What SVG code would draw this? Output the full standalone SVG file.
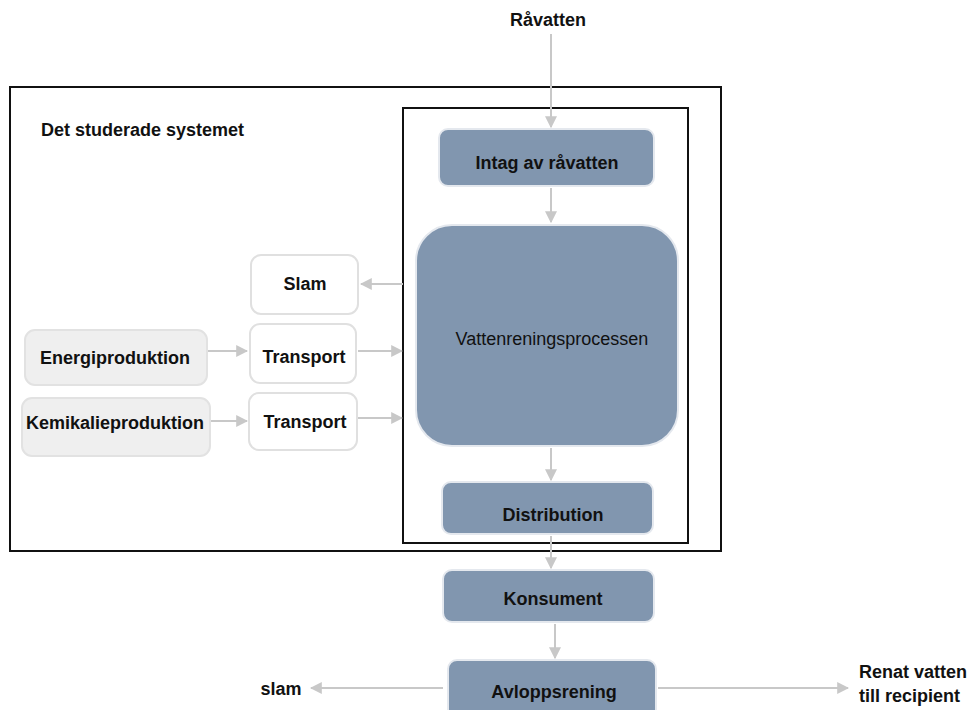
<svg xmlns="http://www.w3.org/2000/svg" width="969" height="710" viewBox="0 0 969 710">
<defs>
<style>
text{font-family:"Liberation Sans",Arial,sans-serif;font-size:18px;fill:#111;}
.b{font-weight:bold;}
.blue{fill:#8196af;stroke:#e4e8ee;stroke-width:2;}
.white{fill:#ffffff;stroke:#e0e0e0;stroke-width:2;}
.grey{fill:#efefef;stroke:#e2e2e2;stroke-width:2;}
.frame{fill:none;stroke:#111;stroke-width:2;}
.c{stroke:#c8c8c8;stroke-width:2;fill:none;marker-end:url(#ah);}
</style>
<marker id="ah" viewBox="0 0 10 10" refX="9" refY="5" markerWidth="6" markerHeight="6" orient="auto" markerUnits="strokeWidth">
<path d="M0,0 L10,5 L0,10 z" fill="#c8c8c8"/>
</marker>
</defs>
<rect width="969" height="710" fill="#fff"/>
<g id="system">
<rect class="frame" x="10" y="87" width="711" height="464"/>
<text class="b" x="41" y="136">Det studerade systemet</text>
</g>
<g id="process-frame">
<rect class="frame" x="403" y="108" width="285" height="435" stroke-width="2.5"/>
</g>
<g id="connectors">
<line class="c" x1="551" y1="34" x2="551" y2="127"/>
<line class="c" x1="551" y1="188" x2="551" y2="222"/>
<line class="c" x1="551" y1="448" x2="551" y2="480"/>
<line class="c" x1="551" y1="536" x2="551" y2="568"/>
<line class="c" x1="555" y1="624" x2="555" y2="658"/>
<line class="c" x1="403" y1="284" x2="361" y2="284"/>
<line class="c" x1="358" y1="351" x2="402" y2="351"/>
<line class="c" x1="358" y1="418" x2="402" y2="418"/>
<line class="c" x1="208" y1="351" x2="247" y2="351"/>
<line class="c" x1="211" y1="421" x2="247" y2="421"/>
<line class="c" x1="443" y1="688" x2="311" y2="688"/>
<line class="c" x1="658" y1="688" x2="848" y2="688"/>
</g>
<g id="ravatten"><text class="b" x="548" y="26" text-anchor="middle">Råvatten</text></g>
<g id="intag">
<rect class="blue" x="439" y="129" width="215" height="57" rx="9"/>
<text class="b" x="547" y="169" text-anchor="middle">Intag av råvatten</text>
</g>
<g id="vattenrening">
<rect class="blue" x="416" y="225" width="262" height="221" rx="36"/>
<text x="552" y="345" text-anchor="middle">Vattenreningsprocessen</text>
</g>
<g id="distribution">
<rect class="blue" x="442" y="482" width="211" height="52" rx="9"/>
<text class="b" x="553" y="521" text-anchor="middle">Distribution</text>
</g>
<g id="konsument">
<rect class="blue" x="443" y="570" width="211" height="52" rx="9"/>
<text class="b" x="553" y="605" text-anchor="middle">Konsument</text>
</g>
<g id="avloppsrening">
<rect class="blue" x="448" y="660" width="208" height="60" rx="9"/>
<text class="b" x="554" y="698" text-anchor="middle">Avloppsrening</text>
</g>
<g id="slam-box">
<rect class="white" x="251" y="255" width="107" height="59" rx="10"/>
<text class="b" x="305" y="290" text-anchor="middle">Slam</text>
</g>
<g id="transport1">
<rect class="white" x="250" y="324" width="106" height="59" rx="10"/>
<text class="b" x="304" y="363" text-anchor="middle">Transport</text>
</g>
<g id="transport2">
<rect class="white" x="249" y="393" width="108" height="57" rx="10"/>
<text class="b" x="305" y="428" text-anchor="middle">Transport</text>
</g>
<g id="energi">
<rect class="grey" x="25" y="330" width="182" height="55" rx="10"/>
<text class="b" x="115" y="364" text-anchor="middle">Energiproduktion</text>
</g>
<g id="kemikalie">
<rect class="grey" x="22" y="398" width="188" height="58" rx="10"/>
<text class="b" x="115" y="429" text-anchor="middle">Kemikalieproduktion</text>
</g>
<g id="slam-out"><text class="b" x="281" y="695" text-anchor="middle">slam</text></g>
<g id="renat">
<text class="b" x="859" y="678">Renat vatten</text>
<text class="b" x="859" y="702">till recipient</text>
</g>
</svg>
